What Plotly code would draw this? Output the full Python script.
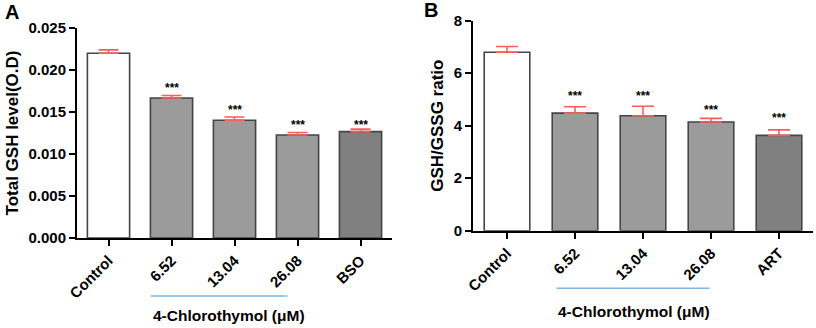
import plotly.graph_objects as go

# ---- data ----
categories_a = ["Control", "6.52", "13.04", "26.08", "BSO"]
gsh_mean = [0.0220, 0.01667, 0.01401, 0.01226, 0.01266]
gsh_err = [0.0004, 0.0003, 0.0004, 0.0003, 0.0003]
gsh_star_y = [None, 0.0182, 0.0156, 0.0138, 0.0138]
gsh_ticks = [0.000, 0.005, 0.010, 0.015, 0.020, 0.025]
gsh_ticklabels = ["0.000", "0.005", "0.010", "0.015", "0.020", "0.025"]

categories_b = ["Control", "6.52", "13.04", "26.08", "ART"]
ratio_mean = [6.80, 4.48, 4.38, 4.14, 3.63]
ratio_err = [0.22, 0.24, 0.36, 0.14, 0.21]
ratio_star_y = [None, 5.26, 5.26, 4.70, 4.42]
ratio_ticks = [0, 2, 4, 6, 8]

bar_colors = ["#ffffff", "#9b9b9b", "#9b9b9b", "#9b9b9b", "#808080"]
FONT = "Arial, 'Liberation Sans', Helvetica, sans-serif"

fig = go.Figure()

fig.add_trace(go.Bar(
    x=categories_a, y=gsh_mean, xaxis="x", yaxis="y", width=0.67,
    marker=dict(color=bar_colors, line=dict(color="#444444", width=1.6)),
    error_y=dict(type="data", array=gsh_err, arrayminus=[0]*5, symmetric=False,
                 color="#ff5c5c", thickness=1.6, width=10),
    showlegend=False, hoverinfo="skip"))

fig.add_trace(go.Bar(
    x=categories_b, y=ratio_mean, xaxis="x2", yaxis="y2", width=0.67,
    marker=dict(color=bar_colors, line=dict(color="#444444", width=1.6)),
    error_y=dict(type="data", array=ratio_err, arrayminus=[0]*5, symmetric=False,
                 color="#ff5c5c", thickness=1.6, width=11),
    showlegend=False, hoverinfo="skip"))

axis_common = dict(showline=True, linecolor="black", linewidth=2, ticks="outside",
                   ticklen=6, tickwidth=2, tickcolor="black", showgrid=False,
                   zeroline=False, automargin=False,
                   tickfont=dict(family=FONT, size=15, color="black"))

fig.update_layout(
    width=816, height=328, margin=dict(l=0, r=0, t=0, b=0, autoexpand=False),
    plot_bgcolor="white", paper_bgcolor="white",
    font=dict(family=FONT, color="black"),
    xaxis=dict(domain=[77/816, 392/816], anchor="y", range=[-0.5, 4.5], type="category",
               tickangle=-45, tickvals=categories_a,
               ticktext=[f"<b>{c}</b>" for c in categories_a], **axis_common),
    yaxis=dict(domain=[1-238/328, 1-28/328], anchor="x", range=[0, 0.025],
               tickvals=gsh_ticks, ticktext=[f"<b>{t}</b>" for t in gsh_ticklabels],
               title=dict(text="<b>Total GSH level(O.D)</b>", font=dict(size=17, family=FONT), standoff=6),
               **axis_common),
    xaxis2=dict(domain=[473/816, 813/816], anchor="y2", range=[-0.5, 4.5], type="category",
                tickangle=-45, tickvals=categories_b,
                ticktext=[f"<b>{c}</b>" for c in categories_b], **axis_common),
    yaxis2=dict(domain=[1-230.7/328, 1-20.7/328], anchor="x2", range=[0, 8],
                tickvals=ratio_ticks, ticktext=[f"<b>{t}</b>" for t in ratio_ticks],
                title=dict(text="<b>GSH/GSSG ratio</b>", font=dict(size=17, family=FONT), standoff=6),
                **axis_common),
)

annotations = []
for i, sy in enumerate(gsh_star_y):
    if sy is not None:
        annotations.append(dict(x=i, y=sy, xref="x", yref="y", text="<b>***</b>", showarrow=False,
                                font=dict(size=12, family=FONT), yshift=-3))
for i, sy in enumerate(ratio_star_y):
    if sy is not None:
        annotations.append(dict(x=i, y=sy, xref="x2", yref="y2", text="<b>***</b>", showarrow=False,
                                font=dict(size=12, family=FONT), yshift=-3))

annotations += [
    dict(x=1.91, y=1 - 315/328, xref="x", yref="paper", text="<b>4-Chlorothymol (μM)</b>",
         showarrow=False, font=dict(size=15.5, family=FONT), yanchor="middle"),
    dict(x=1.87, y=1 - 311.7/328, xref="x2", yref="paper", text="<b>4-Chlorothymol (μM)</b>",
         showarrow=False, font=dict(size=15.5, family=FONT), yanchor="middle"),
    dict(x=12/816, y=1-12/328, xref="paper", yref="paper", text="<b>A</b>", showarrow=False,
         font=dict(size=20, family=FONT), xanchor="center", yanchor="middle"),
    dict(x=431/816, y=1-10/328, xref="paper", yref="paper", text="<b>B</b>", showarrow=False,
         font=dict(size=20, family=FONT), xanchor="center", yanchor="middle"),
]
fig.update_layout(annotations=annotations)

fig.update_layout(shapes=[
    dict(type="line", xref="x", yref="paper", x0=0.67, x1=2.84, y0=1-296/328, y1=1-296/328,
         line=dict(color="#7db7e3", width=1.6)),
    dict(type="line", xref="x2", yref="paper", x0=0.73, x1=2.98, y0=1-288.3/328, y1=1-288.3/328,
         line=dict(color="#7db7e3", width=1.6)),
])

fig.write_html("out.html", config={"displayModeBar": False},
               post_script="document.body.style.margin='0';document.body.style.overflow='hidden';")
